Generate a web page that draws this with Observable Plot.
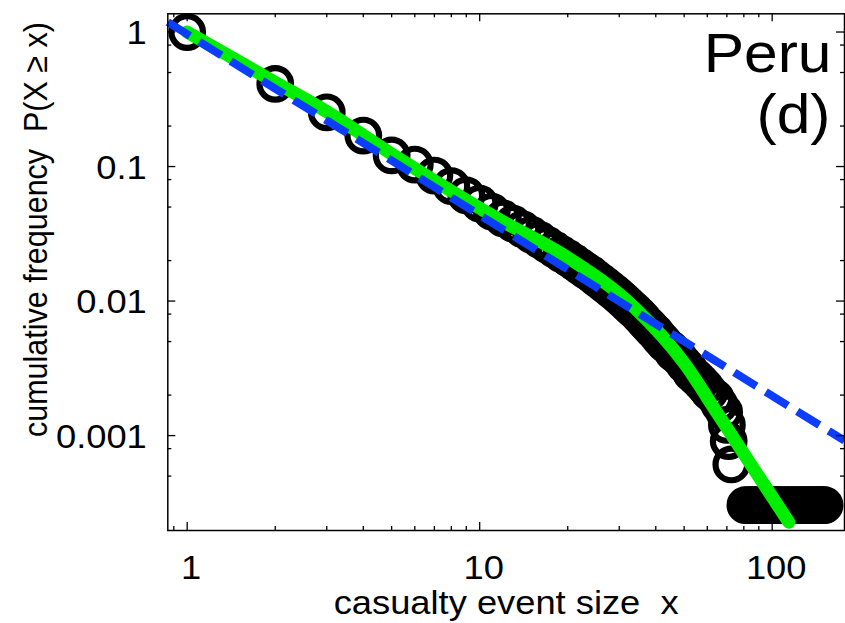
<!DOCTYPE html>
<html>
<head>
<meta charset="utf-8">
<script src="https://cdn.jsdelivr.net/npm/d3@7"></script>
<script src="https://cdn.jsdelivr.net/npm/@observablehq/plot@0.6"></script>
<style>
html,body{margin:0;padding:0;background:#fff;}
#chart{width:845px;height:623px;overflow:hidden;}
</style>
</head>
<body>
<div id="chart"></div>
<script>
// ---- data ----
const eventSize = [1,2,3,4,5,6,7,8,9,10,11,12,13,14,15,16,17,18,19,20,21,22,23,24,25,26,27,28,29,30,31,32,33,34,35,36,37,38,39,40,41,42,43,45,46,48,50,52,53,55,57,59,61,64,66,68.5,70,71,72.5];
const cumFreq   = [1.0,0.412,0.253,0.170,0.121,0.1035,0.0857,0.0715,0.061,0.053,0.0462,0.0412,0.0376,0.0342,0.0312,0.0286,0.0263,0.0242,0.0224,0.0209,0.0195,0.0181,0.0169,0.0159,0.0148,0.0139,0.013,0.0122,0.0115,0.0108,0.0101,0.0095,0.0089,0.0084,0.0079,0.0074,0.0069,0.0065,0.0061,0.0058,0.0054,0.0051,0.0048,0.0044,0.0041,0.0038,0.0034,0.0031,0.0029,0.0027,0.0025,0.0023,0.0021,0.0019,0.0017,0.0015,0.0012,0.00091,0.00061];
const largestSizes = [81,83,85,87,89,91,93,95,97,99,101,103,105,107,110,113,116,119,122,125,128,131,134,137,140,143,146,149,151];
const largestFreq  = 0.000304;

const cutoffFitX = [1,2,3,5,6.98,11.8,19.9,33.7,50.1,65,84.2,114];
const cutoffFitY = [1.0,0.423,0.256,0.124,0.0788,0.0398,0.0212,0.00899,0.00344,0.00146,0.000618,0.000227];

const powerFitX = [0.8584,176.7];
const powerFitY = [1.183,0.000918];

const xMajorTicks = [1,10,100];
const xTickLabels = ["1","10","100"];
const xMinorTicks = [0.9,2,3,4,5,6,7,8,9,20,30,40,50,60,70,80,90];
const yMajorTicks = [1,0.1,0.01,0.001];
const yTickLabels = ["1","0.1","0.01","0.001"];
const yMinorTicks = [0.8,0.5,0.2,0.08,0.05,0.02,0.008,0.005,0.002,0.0008,0.0005];

const xTitle = "casualty event size \u00a0x";
const yTitle = "cumulative frequency \u00a0P(X \u2265 x)";
const panelName = "Peru";
const panelTag = "(d)";

// ---- layout ----
const W = 845, H = 623;
const mL = 167.3, mR = 1, mT = 13.3, mB = 93;
const pw = W - mL - mR, ph = H - mT - mB;
const font = "'Liberation Sans', Arial, Helvetica, sans-serif";

const points = eventSize.map((x, i) => ({x, y: cumFreq[i]}));
const tail = largestSizes.map(x => ({x, y: largestFreq}));
const cutoff = cutoffFitX.map((x, i) => ({x, y: cutoffFitY[i]}));
const power = powerFitX.map((x, i) => ({x, y: powerFitY[i]}));

const chart = Plot.plot({
  width: W, height: H,
  marginLeft: mL, marginRight: mR, marginTop: mT, marginBottom: mB,
  style: {fontFamily: font, background: "#fff", color: "#000", overflow: "visible"},
  x: {type: "log", domain: [0.8584, 176.7], axis: null},
  y: {type: "log", domain: [0.000197, 1.366], axis: null},
  marks: [
    Plot.dot(points, {x: "x", y: "y", r: 15.8, stroke: "#000", strokeWidth: 6.2, fill: "none"}),
    Plot.dot(tail, {x: "x", y: "y", r: 15.8, stroke: "#000", strokeWidth: 6.2, fill: "#000"}),
    Plot.line(cutoff, {x: "x", y: "y", stroke: "#00ee00", strokeWidth: 13, strokeLinecap: "round", strokeLinejoin: "round", curve: "monotone-x"}),
    Plot.line(power, {x: "x", y: "y", stroke: "#0b3dfa", strokeWidth: 8, strokeDasharray: "26,11", strokeLinecap: "butt"}),
    // inward ticks on all four sides
    Plot.tickX(xMajorTicks, {x: d => d, insetTop: ph - 8, stroke: "#000", strokeWidth: 1.3}),
    Plot.tickX(xMajorTicks, {x: d => d, insetBottom: ph - 8, stroke: "#000", strokeWidth: 1.3}),
    Plot.tickX(xMinorTicks, {x: d => d, insetTop: ph - 4, stroke: "#000", strokeWidth: 1.3}),
    Plot.tickX(xMinorTicks, {x: d => d, insetBottom: ph - 4, stroke: "#000", strokeWidth: 1.3}),
    Plot.tickY(yMajorTicks, {y: d => d, insetRight: pw - 8, stroke: "#000", strokeWidth: 1.3}),
    Plot.tickY(yMajorTicks, {y: d => d, insetLeft: pw - 8, stroke: "#000", strokeWidth: 1.3}),
    Plot.tickY(yMinorTicks, {y: d => d, insetRight: pw - 4, stroke: "#000", strokeWidth: 1.3}),
    Plot.tickY(yMinorTicks, {y: d => d, insetLeft: pw - 4, stroke: "#000", strokeWidth: 1.3}),
    Plot.frame({stroke: "#000", strokeWidth: 1.5}),
    // tick labels
    Plot.text(xMajorTicks, {x: d => d, text: (d, i) => xTickLabels[i], frameAnchor: "bottom", lineAnchor: "bottom", textAnchor: "middle", dy: 48, dx: 4, fontSize: 33, fill: "#000"}),
    Plot.text(yMajorTicks, {y: d => d, text: (d, i) => yTickLabels[i], frameAnchor: "left", lineAnchor: "middle", textAnchor: "end", dx: -21, dy: 1.5, fontSize: 33, fill: "#000"}),
    // axis titles
    Plot.text([xTitle], {text: d => d, frameAnchor: "bottom", lineAnchor: "bottom", textAnchor: "middle", dy: 83, fontSize: 33, fill: "#000"}),
    Plot.text([yTitle], {text: d => d, frameAnchor: "left", lineAnchor: "bottom", textAnchor: "middle", rotate: -90, dx: -120.6, dy: -42.6, fontSize: 30.5, fill: "#000"}),
    // panel label
    Plot.text([panelName], {text: d => d, frameAnchor: "top-right", lineAnchor: "bottom", textAnchor: "end", dx: -13, dy: 58.4, fontSize: 55, fill: "#000"}),
    Plot.text([panelTag], {text: d => d, frameAnchor: "top-right", lineAnchor: "bottom", textAnchor: "end", dx: -14, dy: 118.7, fontSize: 55, fill: "#000"})
  ]
});
document.getElementById("chart").appendChild(chart);

// the reference glyphs are slightly wider than tall: stretch text horizontally about its anchor
chart.querySelectorAll("text").forEach(el => {
  const t = el.getAttribute("transform");
  if (t && /translate\(/.test(t)) {
    el.setAttribute("transform", t.replace(/translate\(([^)]*)\)/, "translate($1) scale(1.1,1)"));
  } else {
    const x = +el.getAttribute("x") || 0, y = +el.getAttribute("y") || 0;
    el.setAttribute("transform", `translate(${x},${y}) scale(1.1,1)` + (t ? " " + t : ""));
    el.setAttribute("x", 0);
  }
});
</script>
</body>
</html>
